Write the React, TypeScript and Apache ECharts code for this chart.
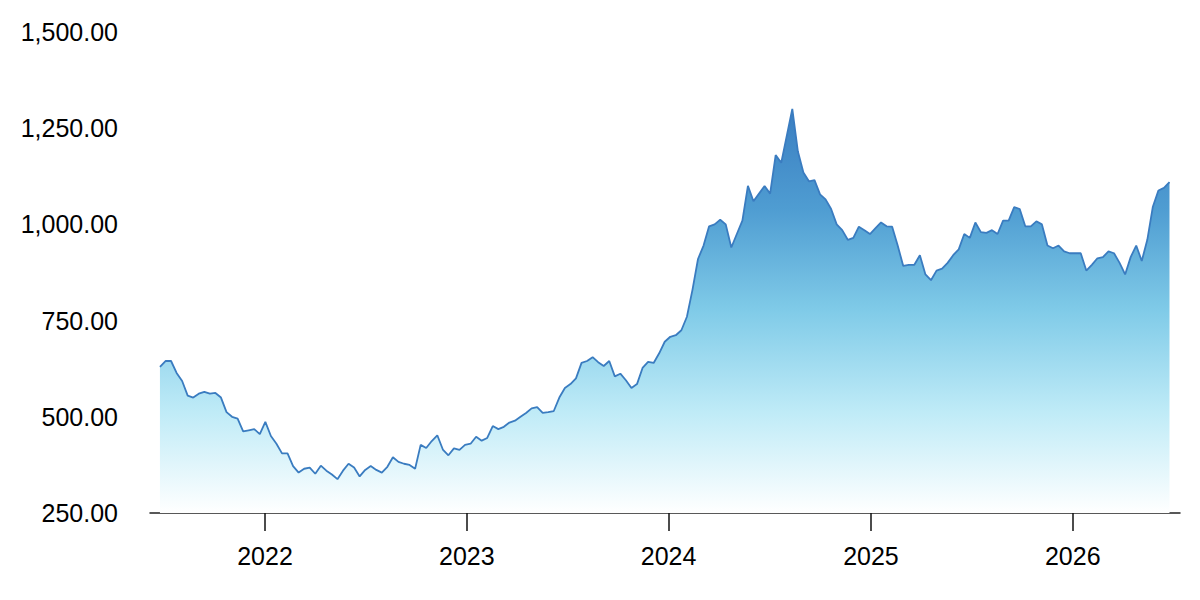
import React, { useEffect, useRef } from "react";
import * as echarts from "echarts";

const START_DATE = "2021-06-25";
const END_DATE = "2026-06-25";
const AXIS_MIN = "2021-06-07";
const AXIS_MAX = "2026-07-14";
const YEAR_TICKS = ["2022-01-01", "2023-01-01", "2024-01-01", "2025-01-01", "2026-01-01"];

const prices = [
  630, 645, 645, 614, 593, 555, 550, 560, 565, 560,
  562, 550, 512, 500, 495, 462, 465, 468, 455, 487,
  450, 430, 405, 405, 372, 355, 365, 368, 352, 373,
  360, 350, 338, 360, 378, 368, 345, 362, 372, 362,
  355, 370, 395, 383, 378, 375, 365, 427, 419, 437,
  452, 415, 400, 418, 414, 427, 430, 448, 438, 445,
  476, 468, 474, 485, 490, 500, 510, 522, 525, 510,
  512, 515, 550, 575, 585, 600, 640, 645, 655, 642,
  632, 645, 605, 612, 595, 575, 585, 627, 643, 640,
  665, 695, 708, 712, 725, 760, 830, 910, 945, 995,
  1000, 1012, 1000, 940, 975, 1010, 1100, 1060, 1080, 1100,
  1080, 1180, 1160, 1230, 1300, 1190, 1135, 1112, 1115, 1078,
  1065, 1040, 1000, 985, 960, 965, 994, 985, 975, 990,
  1005, 995, 994, 945, 892, 895, 895, 920, 870, 855,
  880, 885, 900, 920, 935, 975, 965, 1005, 980, 978,
  985, 975, 1010, 1010, 1045, 1040, 995, 995, 1008, 1000,
  945, 938, 945, 930, 925, 925, 925, 880, 895, 912,
  915, 930, 925, 900, 870, 915, 945, 905, 960, 1046,
  1088, 1095, 1110,
];

const Y_MIN = 250;
const Y_MAX = 1500;
const Y_STEP = 250;

export default function App() {
  const ref = useRef<HTMLDivElement>(null);

  useEffect(() => {
    if (!ref.current) return;
    const chart = echarts.init(ref.current, null, { renderer: "svg" });
    const t0 = Date.parse(START_DATE);
    const t1 = Date.parse(END_DATE);
    const step = (t1 - t0) / (prices.length - 1);
    const data = prices.map((v, i) => [t0 + i * step, v]);
    const yearTs = YEAR_TICKS.map((d) => Date.parse(d));
    const font = "'Liberation Sans', Arial, Helvetica, sans-serif";

    chart.setOption({
      animation: false,
      backgroundColor: "#ffffff",
      grid: { left: 150, right: 20, top: 32, bottom: 87, containLabel: false },
      xAxis: {
        type: "value",
        min: Date.parse(AXIS_MIN),
        max: Date.parse(AXIS_MAX),
        axisLine: { show: true, lineStyle: { color: "#222222", width: 1.5 } },
        axisTick: {
          show: true,
          length: 18,
          lineStyle: { color: "#111111", width: 1.5 },
          customValues: yearTs,
        },
        axisLabel: {
          customValues: yearTs,
          formatter: (v: number) => String(new Date(v).getUTCFullYear()),
          color: "#000000",
          fontSize: 25,
          fontFamily: font,
          margin: 30,
        },
        splitLine: { show: false },
      },
      yAxis: {
        type: "value",
        min: Y_MIN,
        max: Y_MAX,
        interval: Y_STEP,
        axisLine: { show: false },
        axisTick: { show: false },
        splitLine: { show: false },
        axisLabel: {
          color: "#000000",
          fontSize: 25,
          fontFamily: font,
          margin: 32,
          formatter: (v: number) =>
            v.toLocaleString("en-US", { minimumFractionDigits: 2, maximumFractionDigits: 2 }),
        },
      },
      series: [
        {
          type: "line",
          data,
          showSymbol: false,
          symbol: "none",
          lineStyle: { color: "#3a7cc0", width: 1.8 },
          areaStyle: {
            opacity: 1,
            color: new echarts.graphic.LinearGradient(0, 0, 0, 1, [
              { offset: 0, color: "#3a7ec1" },
              { offset: 0.25, color: "#4f9dd2" },
              { offset: 0.5, color: "#80cbe8" },
              { offset: 0.75, color: "#bfebf7" },
              { offset: 1, color: "#ffffff" },
            ]),
          },
        },
      ],
    });
    return () => chart.dispose();
  }, []);

  return (
    <div
      ref={ref}
      style={{ position: "fixed", left: 0, top: 0, width: 1200, height: 600, background: "#fff" }}
    />
  );
}
